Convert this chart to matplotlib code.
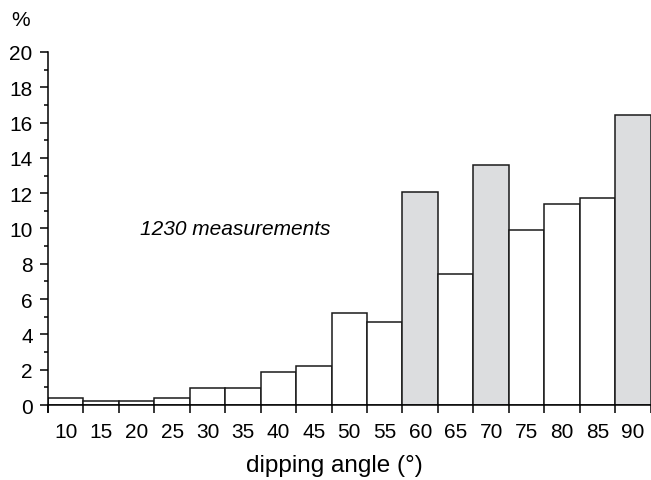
import matplotlib.pyplot as plt
from matplotlib.ticker import MultipleLocator

plt.rcParams['font.family'] = ['Liberation Sans', 'DejaVu Sans']

# dip angle classes (centre of 5 degree bins) and frequency in %
angles = [10, 15, 20, 25, 30, 35, 40, 45, 50, 55, 60, 65, 70, 75, 80, 85, 90]
percent = [0.42, 0.2, 0.2, 0.42, 0.98, 0.98, 1.89, 2.21, 5.2, 4.68,
           12.05, 7.45, 13.62, 9.93, 11.39, 11.75, 16.45]
shaded = [60, 70, 90]

fig = plt.figure(figsize=(6.51, 4.81), dpi=100)
ax = fig.add_axes([48 / 651, 1 - 406 / 481, 1 - 48 / 651, 353 / 481])

colors = ['#dcdddf' if a in shaded else 'white' for a in angles]
ax.bar(angles, percent, width=5, color=colors, edgecolor='#1a1a1a', linewidth=1.1, zorder=2)

ax.set_xlim(7.5, 92.55)
ax.set_ylim(0, 20)

ax.spines['top'].set_visible(False)
ax.spines['right'].set_visible(False)
ax.spines['left'].set_linewidth(1.1)
ax.spines['bottom'].set_linewidth(1.1)
ax.spines['left'].set_bounds(-0.4, 20)

ax.yaxis.set_major_locator(MultipleLocator(2))
ax.yaxis.set_minor_locator(MultipleLocator(1))
ax.tick_params(axis='y', which='major', length=6, width=1.1, labelsize=15, pad=5)
ax.tick_params(axis='y', which='minor', length=3, width=1.1)

# edge ticks without labels, labels at bin centres
edges = [a - 2.5 for a in angles] + [angles[-1] + 2.5]
ax.set_xticks(edges)
ax.set_xticklabels([])
ax.set_xticks(angles, minor=True)
ax.set_xticklabels([str(a) for a in angles], minor=True)
ax.tick_params(axis='x', which='major', length=6, width=1.1)
ax.tick_params(axis='x', which='minor', length=0, labelsize=15, pad=12)

ax.text(20.5, 10.0, '1230 measurements', style='italic', fontsize=15, va='center', ha='left')
fig.text(21 / 651, 1 - 20 / 481, '%', fontsize=15, ha='center', va='center')
fig.text(334 / 651, 1 - 466 / 481, 'dipping angle (°)', fontsize=17.5, ha='center', va='center')

plt.savefig('out.png', dpi=100)
